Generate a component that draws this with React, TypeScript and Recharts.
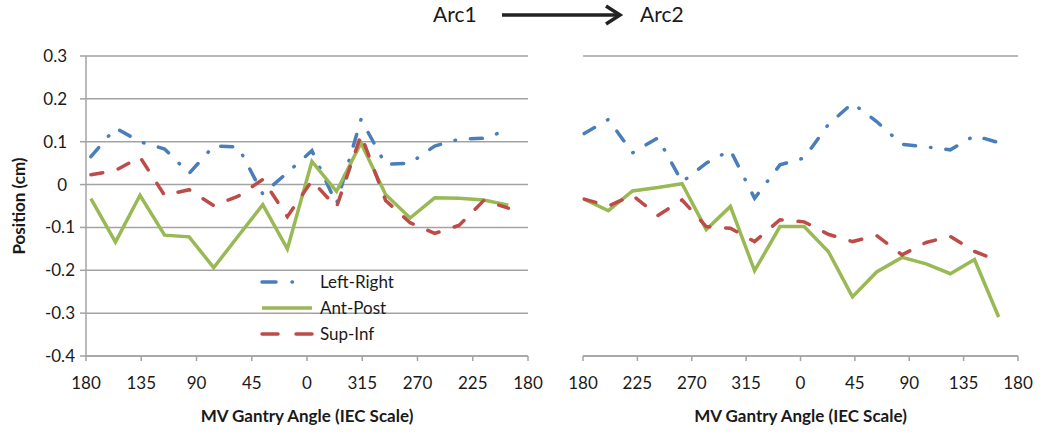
import React from 'react';
import { LineChart, Line, XAxis, YAxis, CartesianGrid, Legend } from 'recharts';

// ---- data ----
// x positions are in "degrees along the axis" (0..360), tick labels map them to IEC gantry angles
const leftAngle = [4, 24, 44, 64, 84, 104, 124, 144, 164, 184, 204, 224, 244, 264, 284, 304, 324, 344];
const leftLeftRight = [0.065, 0.132, 0.1, 0.083, 0.026, 0.09, 0.088, -0.022, 0.028, 0.079, -0.045, 0.152, 0.047, 0.05, 0.09, 0.106, 0.108, 0.128];
const leftAntPost = [-0.033, -0.134, -0.025, -0.118, -0.122, -0.194, -0.12, -0.047, -0.15, 0.054, -0.016, 0.097, -0.023, -0.078, -0.031, -0.032, -0.036, -0.048];
const leftSupInf = [0.023, 0.033, 0.064, -0.025, -0.012, -0.049, -0.027, 0.012, -0.075, 0.009, -0.053, 0.116, -0.037, -0.089, -0.114, -0.095, -0.037, -0.055];

const rightAngle = [1, 21, 41, 62, 82, 102, 122, 142, 163, 183, 203, 223, 243, 264, 284, 304, 324, 344];
const rightLeftRight = [0.119, 0.152, 0.074, 0.109, 0.006, 0.05, 0.08, -0.032, 0.046, 0.062, 0.14, 0.19, 0.147, 0.094, 0.088, 0.081, 0.114, 0.098];
const rightAntPost = [-0.034, -0.061, -0.015, -0.007, 0.002, -0.105, -0.051, -0.201, -0.098, -0.098, -0.156, -0.262, -0.204, -0.17, -0.185, -0.208, -0.175, -0.309];
const rightSupInf = [-0.034, -0.05, -0.025, -0.072, -0.036, -0.098, -0.102, -0.133, -0.082, -0.087, -0.116, -0.133, -0.119, -0.164, -0.135, -0.121, -0.156, -0.178];

const xTicks = [0, 45, 90, 135, 180, 225, 270, 315, 360];
const leftXLabels = ['180', '135', '90', '45', '0', '315', '270', '225', '180'];
const rightXLabels = ['180', '225', '270', '315', '0', '45', '90', '135', '180'];
const yTicks = [0.3, 0.2, 0.1, 0, -0.1, -0.2, -0.3, -0.4];
const yTickLabels = ['0.3', '0.2', '0.1', '0', '-0.1', '-0.2', '-0.3', '-0.4'];

const seriesNames = ['Left-Right', 'Ant-Post', 'Sup-Inf'];
const titleLeft = 'Arc1';
const titleRight = 'Arc2';
const xTitle = 'MV Gantry Angle  (IEC Scale)';
const yTitle = 'Position (cm)';

// ---- styles ----
const FONT = 'Lato, "Open Sans", sans-serif';
const TEXT = '#1a1a1a';
const GRID = '#a3a3a3';
const BLUE = '#4a7ebb';
const GREEN = '#98b954';
const RED = '#be4b48';
const BLUE_DASH = '12 15 0.5 15';
const RED_DASH = '12 16';
const LW = 3.5;

const leftData = leftAngle.map((a, i) => ({ a, lr: leftLeftRight[i], ap: leftAntPost[i], si: leftSupInf[i] }));
const rightData = rightAngle.map((a, i) => ({ a, lr: rightLeftRight[i], ap: rightAntPost[i], si: rightSupInf[i] }));

const YTick = (props: any) => {
  const { y, payload } = props;
  const v = payload.value;
  const idx = yTicks.indexOf(v);
  const label = idx >= 0 ? yTickLabels[idx] : String(v);
  return (
    <text x={v < 0 ? 75 : 67} y={y} dy="0.35em" textAnchor="end" fontSize={17} fill={TEXT} fontFamily={FONT}>
      {label}
    </text>
  );
};

const XTitle = (props: any) => {
  const vb = props.viewBox || {};
  return (
    <text
      x={vb.x + vb.width / 2}
      y={vb.y + vb.height - 4}
      textAnchor="middle"
      fontSize={17}
      fontWeight="bold"
      fill={TEXT}
      fontFamily={FONT}
    >
      {xTitle}
    </text>
  );
};

const YTitle = (props: any) => {
  const vb = props.viewBox || {};
  const cy = vb.y + vb.height / 2;
  const cx = 19;
  return (
    <text
      x={cx}
      y={cy}
      dy="0.35em"
      textAnchor="middle"
      transform={`rotate(-90, ${cx}, ${cy})`}
      fontSize={17}
      fontWeight="bold"
      fill={TEXT}
      fontFamily={FONT}
    >
      {yTitle}
    </text>
  );
};

const legendStyles = [
  { color: BLUE, dash: '14 16 0.5 40' },
  { color: GREEN, dash: undefined as string | undefined },
  { color: RED, dash: '16 18' },
];

const LegendContent = () => (
  <div style={{ fontFamily: FONT, fontSize: 17, color: TEXT }}>
    {seriesNames.map((n, i) => (
      <div key={n} style={{ display: 'flex', alignItems: 'center', height: 26 }}>
        <svg width={60} height={26} style={{ display: 'block' }}>
          <line
            x1={2}
            y1={13}
            x2={52}
            y2={13}
            stroke={legendStyles[i].color}
            strokeWidth={LW}
            strokeLinecap={legendStyles[i].dash ? 'round' : 'butt'}
            strokeDasharray={legendStyles[i].dash}
          />
        </svg>
        <span style={{ lineHeight: '26px', whiteSpace: 'nowrap' }}>{n}</span>
      </div>
    ))}
  </div>
);

const axisLine = { stroke: GRID, strokeWidth: 1.5 };

export default function App() {
  return (
    <div style={{ position: 'absolute', left: 0, top: 0, width: 1050, height: 434, background: '#fff', fontFamily: FONT }}>
      <svg width={1050} height={40} style={{ position: 'absolute', left: 0, top: 0 }}>
        <text x={433} y={22} fontSize={21} fill={TEXT} fontFamily={FONT}>
          {titleLeft}
        </text>
        <line x1={502} y1={15} x2={619} y2={15} stroke="#222" strokeWidth={3.5} />
        <polyline points="606,6 620,15 606,24" fill="none" stroke="#222" strokeWidth={3.5} />
        <text x={640} y={22} fontSize={21} fill={TEXT} fontFamily={FONT}>
          {titleRight}
        </text>
      </svg>

      <div style={{ position: 'absolute', left: 0, top: 0 }}>
        <LineChart width={560} height={434} data={leftData} margin={{ top: 56, right: 32, left: 0, bottom: 8 }}>
          <CartesianGrid vertical={false} stroke={GRID} strokeWidth={1.5} />
          <XAxis
            type="number"
            dataKey="a"
            domain={[0, 360]}
            ticks={xTicks}
            interval={0}
            height={70}
            tickSize={5}
            tickMargin={16}
            axisLine={axisLine}
            tickLine={axisLine}
            tick={{ fontSize: 17, fill: TEXT, fontFamily: FONT }}
            tickFormatter={(v: number, i: number) => leftXLabels[i]}
            label={<XTitleLabel />}
          />
          <YAxis
            type="number"
            domain={[-0.4, 0.3]}
            ticks={yTicks}
            interval={0}
            width={86}
            tickSize={6}
            axisLine={axisLine}
            tickLine={axisLine}
            tick={<YTick />}
            label={<YTitleLabel />}
          />
          <Legend
            layout="vertical"
            align="center"
            verticalAlign="middle"
            content={<LegendContent />}
            wrapperStyle={{ left: 260, top: 269, width: 170, height: 80 }}
          />
          <Line dataKey="lr" name={seriesNames[0]} stroke={BLUE} strokeWidth={LW} strokeDasharray={BLUE_DASH} strokeLinecap="round" dot={false} activeDot={false} isAnimationActive={false} />
          <Line dataKey="ap" name={seriesNames[1]} stroke={GREEN} strokeWidth={LW} dot={false} activeDot={false} isAnimationActive={false} />
          <Line dataKey="si" name={seriesNames[2]} stroke={RED} strokeWidth={LW} strokeDasharray={RED_DASH} strokeLinecap="round" dot={false} activeDot={false} isAnimationActive={false} />
        </LineChart>
      </div>

      <div style={{ position: 'absolute', left: 540, top: 0 }}>
        <LineChart width={510} height={434} data={rightData} margin={{ top: 56, right: 32, left: 43, bottom: 8 }}>
          <CartesianGrid vertical={false} stroke={GRID} strokeWidth={1.5} />
          <XAxis
            type="number"
            dataKey="a"
            domain={[0, 360]}
            ticks={xTicks}
            interval={0}
            height={70}
            tickSize={5}
            tickMargin={16}
            axisLine={axisLine}
            tickLine={axisLine}
            tick={{ fontSize: 17, fill: TEXT, fontFamily: FONT }}
            tickFormatter={(v: number, i: number) => rightXLabels[i]}
            label={<XTitleLabel />}
          />
          <YAxis
            type="number"
            domain={[-0.4, 0.3]}
            ticks={yTicks}
            interval={0}
            width={0}
            axisLine={false}
            tickLine={false}
            tick={false}
          />
          <Line dataKey="lr" name={seriesNames[0]} stroke={BLUE} strokeWidth={LW} strokeDasharray={BLUE_DASH} strokeLinecap="round" dot={false} activeDot={false} isAnimationActive={false} />
          <Line dataKey="ap" name={seriesNames[1]} stroke={GREEN} strokeWidth={LW} dot={false} activeDot={false} isAnimationActive={false} />
          <Line dataKey="si" name={seriesNames[2]} stroke={RED} strokeWidth={LW} strokeDasharray={RED_DASH} strokeLinecap="round" dot={false} activeDot={false} isAnimationActive={false} />
        </LineChart>
      </div>
    </div>
  );
}

function XTitleLabel(props: any) {
  return <XTitle {...props} />;
}
function YTitleLabel(props: any) {
  return <YTitle {...props} />;
}
